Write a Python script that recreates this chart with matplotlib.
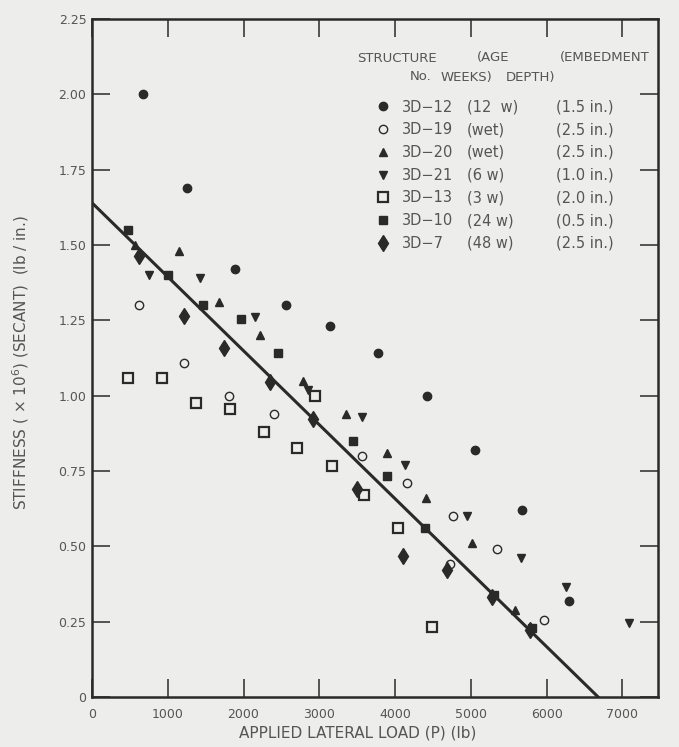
import matplotlib
matplotlib.use("Agg")
import matplotlib.pyplot as plt

plt.rcParams['font.family'] = ['DejaVu Sans']

# ---- data (load in lb, stiffness x1e6 lb/in) ----
s12_x = [670, 1260, 1890, 2555, 3136, 3769, 4415, 5053, 5677, 6297]
s12_y = [2.00, 1.69, 1.42, 1.30, 1.23, 1.14, 1.00, 0.82, 0.62, 0.32]

s19_x = [624, 1214, 1811, 2405, 3566, 4160, 4767, 5347, 5959, 4720]
s19_y = [1.30, 1.11, 1.00, 0.94, 0.80, 0.71, 0.60, 0.49, 0.255, 0.44]

s20_x = [567, 1148, 1671, 2216, 2788, 3346, 3887, 4406, 5013, 5580]
s20_y = [1.50, 1.48, 1.31, 1.20, 1.05, 0.94, 0.81, 0.66, 0.51, 0.29]

s21_x = [752, 1425, 2157, 2845, 3566, 4134, 4955, 5660, 6253, 7089]
s21_y = [1.40, 1.39, 1.26, 1.02, 0.93, 0.77, 0.60, 0.46, 0.365, 0.246]

s13_x = [479, 923, 1372, 1816, 2265, 2704, 2946, 3162, 3593, 4041, 4493]
s13_y = [1.06, 1.06, 0.976, 0.956, 0.878, 0.826, 1.00, 0.768, 0.672, 0.56, 0.233]

s10_x = [475, 998, 1469, 1966, 2454, 3449, 3896, 4393, 5300, 5810]
s10_y = [1.55, 1.40, 1.30, 1.254, 1.143, 0.849, 0.735, 0.56, 0.34, 0.23]

s7_x = [624, 1218, 1744, 2348, 2920, 3492, 4098, 4690, 5273, 5787]
s7_y = [1.464, 1.264, 1.157, 1.046, 0.923, 0.691, 0.467, 0.42, 0.332, 0.223]

fit_x = [0, 6680]
fit_y = [1.64, 0.0]

struct_ids = ["3D\u221212", "3D\u221219", "3D\u221220", "3D\u221221",
              "3D\u221213", "3D\u221210", "3D\u22127"]
ages = ["(12  w)", "(wet)", "(wet)", "(6 w)", "(3 w)", "(24 w)", "(48 w)"]
depths = ["(1.5 in.)", "(2.5 in.)", "(2.5 in.)", "(1.0 in.)",
          "(2.0 in.)", "(0.5 in.)", "(2.5 in.)"]

xticks = [0, 1000, 2000, 3000, 4000, 5000, 6000, 7000]
xticklabels = ["0", "1000", "2000", "3000", "4000", "5000", "6000", "7000"]
yticks = [0, 0.25, 0.5, 0.75, 1.0, 1.25, 1.5, 1.75, 2.0, 2.25]
yticklabels = ["0", "0.25", "0.50", "0.75", "1.00", "1.25", "1.50", "1.75", "2.00", "2.25"]

bg = '#ededeb'
ink = '#2a2a2a'
txt = '#555555'

W, H = 679, 747
fig = plt.figure(figsize=(W / 100, H / 100), dpi=100, facecolor=bg)
AX_L, AX_R, AX_B, AX_T = 92, 658, 697, 19
ax = fig.add_axes([AX_L / W, 1 - AX_B / H, (AX_R - AX_L) / W, (AX_B - AX_T) / H],
                  facecolor=bg)


def fx(px):
    return (px - AX_L) / (AX_R - AX_L)


def fy(py):
    return (AX_B - py) / (AX_B - AX_T)


ms = 6
series = [
    (s12_x, s12_y, dict(marker='o', mfc=ink, mec=ink, ms=ms)),
    (s19_x, s19_y, dict(marker='o', mfc='none', mec=ink, ms=ms, mew=1.0)),
    (s20_x, s20_y, dict(marker='^', mfc=ink, mec=ink, ms=ms)),
    (s21_x, s21_y, dict(marker='v', mfc=ink, mec=ink, ms=ms)),
    (s13_x, s13_y, dict(marker='s', mfc='none', mec=ink, ms=ms + 1, mew=1.6)),
    (s10_x, s10_y, dict(marker='s', mfc=ink, mec=ink, ms=ms)),
    (s7_x, s7_y, dict(marker='d', mfc=ink, mec=ink, ms=ms + 2)),
]
handles = []
for (xs, ys, st), lab in zip(series, struct_ids):
    h, = ax.plot(xs, ys, linestyle='none', label=lab, **st)
    handles.append(h)

ax.plot(fit_x, fit_y, color=ink, lw=2.2, zorder=1)

ax.set_xlim(0, 7470)
ax.set_ylim(0, 2.25)
ax.set_xticks(xticks)
ax.set_xticklabels(xticklabels)
ax.set_yticks(yticks)
ax.set_yticklabels(yticklabels)
ax.tick_params(axis='both', direction='in', length=13, width=1.1, color=ink,
               labelsize=9, labelcolor=txt, top=True, right=True)
ax.tick_params(axis='x', pad=8)
ax.tick_params(axis='y', pad=4)
for sp in ax.spines.values():
    sp.set_linewidth(1.8)
    sp.set_color(ink)

ax.set_xlabel("APPLIED LATERAL LOAD (P) (lb)", fontsize=11, color=txt)
ax.xaxis.set_label_coords(fx(358), fy(725))
ax.set_ylabel("STIFFNESS ( \u00d7 10$^6$) (SECANT)  (lb / in.)", fontsize=11,
              color=txt)
ax.yaxis.set_label_coords(fx(31), fy(362))

# ---- legend ----
LFS = 10.5
fs_px = LFS * 100 / 72
leg = ax.legend(handles=handles, loc='upper left',
                bbox_to_anchor=(fx(383 - 0.5 * fs_px), fy(96)),
                frameon=False, fontsize=LFS, handlelength=1.0, handletextpad=0.8,
                labelspacing=0.53, borderpad=0.0, borderaxespad=0.0)
for t in leg.get_texts():
    t.set_color(txt)

fig.canvas.draw()
r = fig.canvas.get_renderer()
ext = leg.get_texts()[0].get_window_extent(r)
cy = H - (ext.y0 + ext.y1) / 2
dy = cy - 107
leg.set_bbox_to_anchor((fx(383 - 0.5 * fs_px), fy(96 - dy)), transform=ax.transAxes)
fig.canvas.draw()

for t, age, dep in zip(leg.get_texts(), ages, depths):
    e = t.get_window_extent(r)
    yc = H - (e.y0 + e.y1) / 2
    ax.text(fx(467), fy(yc), age, transform=ax.transAxes, fontsize=LFS,
            color=txt, ha='left', va='center')
    ax.text(fx(614), fy(yc), dep, transform=ax.transAxes, fontsize=LFS,
            color=txt, ha='right', va='center')

HFS = 9.5
ax.text(fx(357), fy(58), "STRUCTURE", transform=ax.transAxes, fontsize=HFS,
        color=txt, ha='left', va='center')
ax.text(fx(477), fy(58), "(AGE", transform=ax.transAxes, fontsize=HFS,
        color=txt, ha='left', va='center')
ax.text(fx(560), fy(58), "(EMBEDMENT", transform=ax.transAxes, fontsize=HFS,
        color=txt, ha='left', va='center', clip_on=False)
ax.text(fx(410), fy(77), "No.", transform=ax.transAxes, fontsize=HFS,
        color=txt, ha='left', va='center')
ax.text(fx(441), fy(77), "WEEKS)", transform=ax.transAxes, fontsize=HFS,
        color=txt, ha='left', va='center')
ax.text(fx(506), fy(77), "DEPTH)", transform=ax.transAxes, fontsize=HFS,
        color=txt, ha='left', va='center')

fig.savefig("out.png", dpi=100, facecolor=bg)
